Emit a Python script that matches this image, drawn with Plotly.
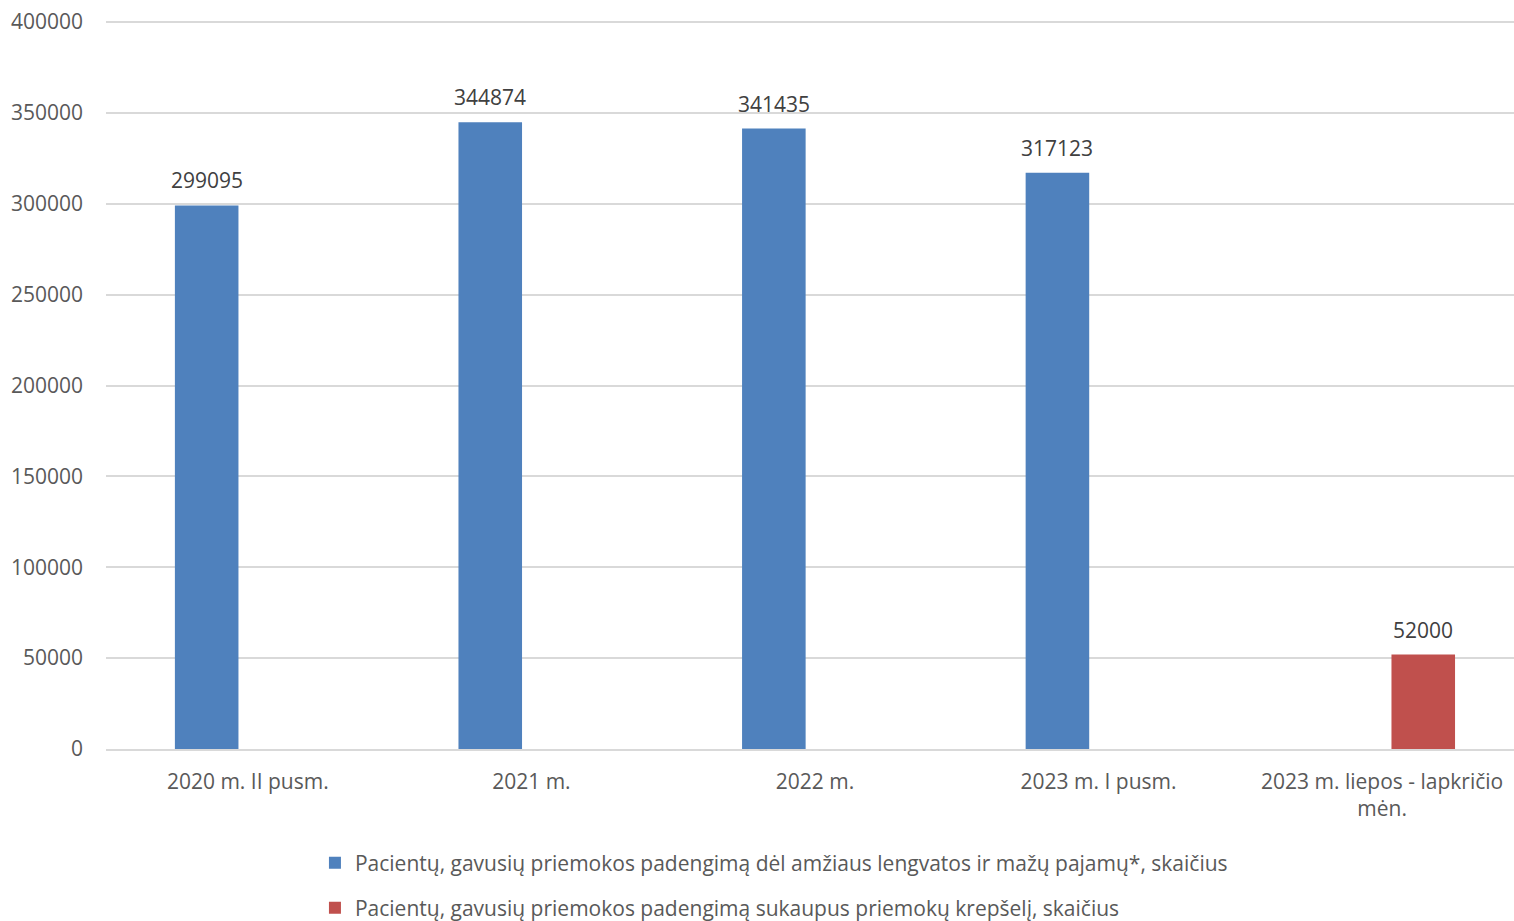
import plotly.graph_objects as go

categories = ["2020 m. II pusm.", "2021 m.", "2022 m.", "2023 m. I pusm.",
              "2023 m. liepos - lapkričio<br>mėn."]
series1_name = "Pacientų, gavusių priemokos padengimą dėl amžiaus lengvatos ir mažų pajamų*, skaičius"
series1_values = [299095, 344874, 341435, 317123, None]
series2_name = "Pacientų, gavusių priemokos padengimą sukaupus priemokų krepšelį, skaičius"
series2_values = [None, None, None, None, 52000]
y_ticks = [0, 50000, 100000, 150000, 200000, 250000, 300000, 350000, 400000]

FONT = "Open Sans"
FS = 21
TICK_COLOR = "#595959"
LABEL_COLOR = "#404040"
W, H = 1514, 921
ML, MR, MT, MB = 106, 0, 21, 172
BARGAP, GROUPGAP = 0.42, 0.227
X_RANGE = [-0.5, len(categories) - 0.535]  # plot area is cut off slightly at the right

fig = go.Figure()
fig.add_trace(go.Bar(
    x=categories, y=series1_values, name=series1_name,
    marker=dict(color="#4F81BD", line=dict(width=0)),
    legend="legend",
))
fig.add_trace(go.Bar(
    x=categories, y=series2_values, name=series2_name,
    marker=dict(color="#C0504D", line=dict(width=0)),
    legend="legend2",
))

# data labels above bars (offset within the group derived from the bar layout)
cat_w = (W - ML - MR) / (X_RANGE[1] - X_RANGE[0])
slot = (1 - BARGAP) * cat_w / 2
for vals, shift in ((series1_values, -slot / 2), (series2_values, slot / 2)):
    for c, v in zip(categories, vals):
        if v is None:
            continue
        fig.add_annotation(x=c, y=v, xref="x", yref="y", text=str(v),
                           showarrow=False, xshift=shift, yshift=9,
                           yanchor="bottom",
                           font=dict(family=FONT, size=FS, color=LABEL_COLOR))

fig.update_layout(
    width=W, height=H,
    margin=dict(l=ML, r=MR, t=MT, b=MB, autoexpand=False),
    paper_bgcolor="white", plot_bgcolor="white",
    barmode="group", bargap=BARGAP, bargroupgap=GROUPGAP,
    font=dict(family=FONT, size=FS, color=TICK_COLOR),
    showlegend=True,
    legend=dict(x=0.1484, y=-0.1566, xanchor="left", yanchor="middle",
                font=dict(family=FONT, size=FS, color=TICK_COLOR),
                bgcolor="rgba(0,0,0,0)"),
    legend2=dict(x=0.1484, y=-0.2184, xanchor="left", yanchor="middle",
                 font=dict(family=FONT, size=FS, color=TICK_COLOR),
                 bgcolor="rgba(0,0,0,0)"),
)
fig.update_yaxes(
    range=[0, 400600], tickvals=y_ticks, ticktext=[str(v) for v in y_ticks],
    showgrid=True, gridcolor="#D9D9D9", gridwidth=1.5,
    zeroline=False, showline=False, automargin=False,
    tickfont=dict(family=FONT, size=FS, color=TICK_COLOR),
    ticklabelstandoff=22, ticklabeloverflow="allow",
)
fig.update_xaxes(
    range=X_RANGE,
    showgrid=False, showline=True, linecolor="#D9D9D9", linewidth=1.5,
    tickfont=dict(family=FONT, size=FS, color=TICK_COLOR), automargin=False,
    ticks="", ticklabelstandoff=13, ticklabeloverflow="allow",
)

fig.write_html(
    "out.html",
    config={"displayModeBar": False},
    post_script="document.body.style.margin='0';document.body.style.overflow='hidden';",
)
